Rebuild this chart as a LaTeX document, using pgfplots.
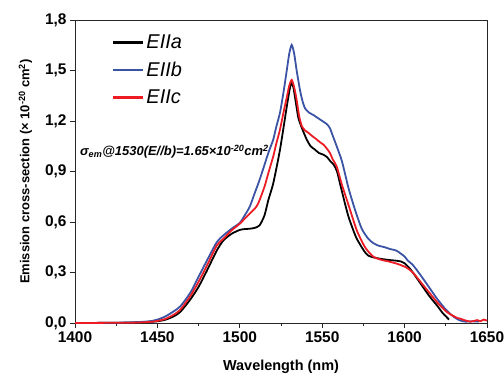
\documentclass[border=0pt]{standalone}
\usepackage{pgfplots}
\pgfplotsset{compat=1.18}
\usepackage{fontspec}
\setmainfont{Liberation Sans}
\definecolor{cblue}{RGB}{58,83,164}
\definecolor{cred}{RGB}{237,28,36}
\begin{document}
\begin{tikzpicture}
\begin{axis}[
  scale only axis,
  width=412bp, height=303bp,
  xmin=1400, xmax=1650, ymin=0, ymax=1.8,
  xtick={1400,1450,...,1650},
  ytick={0,0.3,0.6,0.9,1.2,1.5,1.8},
  minor x tick num=1,
  xtick pos=bottom, ytick pos=left,
  tick align=outside,
  major tick length=5bp, minor tick length=3bp,
  axis line style={line width=1pt, black!85},
  every tick/.style={line width=0.9pt, black!85},
  /pgf/number format/assume math mode=true,
  x tick label style={/pgf/number format/1000 sep={}},
  y tick label style={/pgf/number format/.cd, use comma, fixed, fixed zerofill, precision=1},
  ticklabel style={font=\bfseries\fontsize{15.5}{16}\selectfont},
  xlabel={Wavelength (nm)},
  ylabel={Emission cross-section (\texttimes\ 10\textsuperscript{-20} cm\textsuperscript{2})},
  xlabel style={font=\bfseries\fontsize{14.5}{16}\selectfont, yshift=-11bp},
  ylabel style={font=\bfseries\fontsize{13}{15}\selectfont, yshift=6bp},
  legend style={draw=none, fill=none, at={(0.09,0.958)}, anchor=north west,
    font=\itshape\fontsize{20}{22}\selectfont, row sep=8pt, inner sep=0pt},
  legend cell align=left,
  legend image code/.code={\draw[#1, line width=2.2pt] (0bp,0bp) -- (30bp,0bp);},
  every axis plot/.append style={line width=1.8pt, smooth, tension=0.4},
]
\addplot[black] coordinates {(1400,0)(1420,0.001)(1435,0.003)(1445,0.007)(1450,0.01)(1455,0.02)(1460,0.04)(1464,0.067)(1470,0.14)(1475,0.215)(1480,0.31)(1486,0.43)(1490,0.49)(1495,0.53)(1500,0.553)(1503,0.558)(1506,0.56)(1509,0.565)(1512,0.58)(1515,0.64)(1517.3,0.73)(1520.3,0.83)(1524.4,1.03)(1528.5,1.285)(1530.5,1.40)(1531.5,1.424)(1532.5,1.40)(1534,1.31)(1535.5,1.22)(1537.6,1.16)(1540.6,1.09)(1543,1.05)(1545.6,1.03)(1548,1.01)(1550.7,1.00)(1553,0.985)(1555,0.96)(1557,0.94)(1559,0.90)(1561,0.82)(1563.8,0.71)(1566,0.63)(1568.9,0.55)(1571,0.50)(1574,0.45)(1576,0.42)(1578,0.40)(1581,0.39)(1585,0.382)(1590,0.375)(1595,0.37)(1598,0.365)(1600,0.355)(1603,0.325)(1605,0.30)(1610,0.23)(1615,0.16)(1620,0.10)(1623,0.06)(1625,0.04)(1627,0.02)};
\addlegendentry{EIIa}
\addplot[cblue] coordinates {(1400,0)(1420,0.001)(1435,0.004)(1445,0.01)(1450,0.02)(1455,0.04)(1460,0.07)(1464,0.10)(1470,0.18)(1475,0.275)(1480,0.37)(1486,0.48)(1490,0.52)(1495,0.56)(1500,0.595)(1503,0.64)(1506,0.69)(1509,0.77)(1512,0.85)(1515,0.94)(1517.3,1.01)(1520.3,1.09)(1522,1.16)(1524.4,1.25)(1526.5,1.37)(1528.5,1.50)(1530,1.60)(1531.5,1.652)(1533,1.60)(1534.5,1.50)(1536.5,1.385)(1538,1.32)(1539.6,1.275)(1542,1.25)(1544.6,1.236)(1547,1.22)(1550.7,1.196)(1553,1.18)(1554.7,1.157)(1556.5,1.11)(1558.8,1.05)(1562,0.96)(1566,0.80)(1570,0.67)(1574,0.56)(1578,0.50)(1581,0.475)(1584,0.46)(1588,0.45)(1591,0.44)(1595,0.43)(1598,0.41)(1600,0.395)(1602,0.37)(1605,0.345)(1610,0.28)(1615,0.21)(1620,0.14)(1625,0.08)(1630,0.035)(1634,0.014)(1637,0.008)(1641,0.010)(1645,0.008)};
\addlegendentry{EIIb}
\addplot[cred] coordinates {(1400,0)(1420,0.001)(1435,0.002)(1445,0.006)(1450,0.012)(1455,0.025)(1460,0.05)(1464,0.08)(1470,0.16)(1475,0.245)(1480,0.34)(1486,0.46)(1490,0.50)(1495,0.55)(1500,0.59)(1505,0.64)(1510,0.69)(1512,0.73)(1515,0.81)(1517.3,0.89)(1520.3,0.99)(1522,1.06)(1524.4,1.15)(1526.5,1.25)(1528.5,1.34)(1530,1.41)(1531.5,1.444)(1533,1.40)(1534.5,1.325)(1536,1.23)(1537.6,1.17)(1539.5,1.145)(1541.6,1.13)(1544,1.11)(1546.7,1.09)(1548.5,1.075)(1550.7,1.06)(1552.5,1.04)(1554.7,1.01)(1556.5,0.97)(1558.8,0.93)(1562,0.82)(1566,0.70)(1571,0.55)(1576,0.45)(1581,0.394)(1586,0.375)(1591,0.364)(1596,0.35)(1601,0.33)(1605,0.30)(1610,0.24)(1615,0.18)(1620,0.12)(1623,0.09)(1625,0.07)(1628,0.05)(1630,0.04)(1632,0.03)(1634,0.025)(1636,0.018)(1638,0.012)(1640,0.008)(1642,0.012)(1644,0.017)(1646,0.011)(1648,0.02)(1650,0.014)};
\addlegendentry{EIIc}
\node[anchor=west, inner sep=0pt, font=\bfseries\itshape\fontsize{13}{15}\selectfont] at (rel axis cs:0.012,0.565) {σ\textsubscript{em}@1530(E//b)=1.65\texttimes10\textsuperscript{-20}cm\textsuperscript{2}};
\coordinate (SW) at (rel axis cs:0,0);
\coordinate (NE) at (rel axis cs:1,1);
\end{axis}
\pgfresetboundingbox
\path[use as bounding box] ([xshift=-75bp,yshift=-53bp]SW) rectangle ([xshift=17bp,yshift=20bp]NE);
\end{tikzpicture}
\end{document}
